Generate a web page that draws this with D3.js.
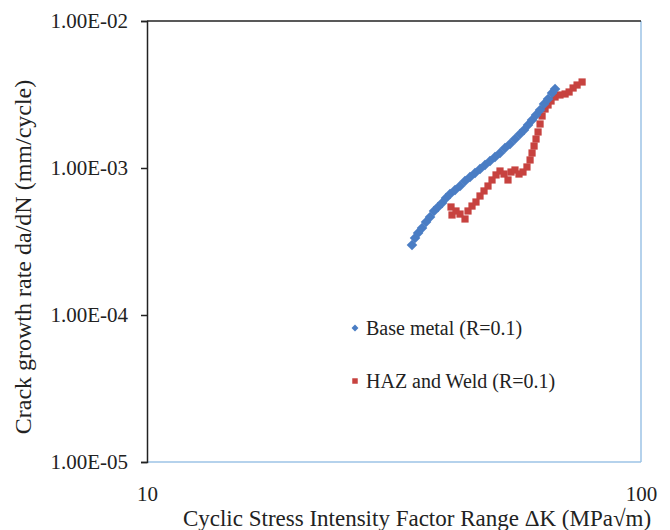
<!DOCTYPE html>
<html lang="en">
<head>
    <meta charset="UTF-8">
    <title>Crack growth rate</title>
    <script src="https://d3js.org/d3.v7.min.js"></script>
    <style>
        body { margin: 0; background: #fff; }
        svg { display: block; font-family: "Liberation Serif", "Times New Roman", serif; }
        .axis text { font-size: 21px; fill: #222; font-family: "Liberation Serif", serif; }
    </style>
</head>
<body>
<svg width="670" height="530"></svg>
<script>
// Base metal (R=0.1)
var baseK = [34.39, 34.88, 35.38, 36.04, 36.72, 37.41, 38.11, 38.83, 39.56, 40.30,
             41.06, 42.03, 43.02, 44.03, 45.07, 46.13, 47.22, 48.33, 49.47, 50.64,
             51.83, 53.05, 54.30, 55.58, 56.89, 57.96, 59.06, 60.18, 61.31, 62.47,
             63.64, 64.84, 66.06, 66.99];
var baseRate = [2.99e-4, 3.34e-4, 3.61e-4, 3.91e-4, 4.29e-4, 4.64e-4, 5.10e-4, 5.43e-4, 5.78e-4, 6.25e-4,
                6.65e-4, 7.09e-4, 7.54e-4, 8.16e-4, 8.69e-4, 9.25e-4, 9.84e-4, 1.048e-3, 1.116e-3, 1.188e-3,
                1.265e-3, 1.368e-3, 1.456e-3, 1.575e-3, 1.703e-3, 1.814e-3, 1.961e-3, 2.121e-3, 2.294e-3, 2.481e-3,
                2.725e-3, 2.947e-3, 3.237e-3, 3.446e-3];

// HAZ and Weld (R=0.1)
var hazK = [41.25, 41.44, 42.22, 43.02, 44.03, 44.65, 45.49, 46.34, 47.22, 48.11,
            49.01, 49.94, 50.88, 51.83, 52.81, 53.80, 54.56, 55.58, 56.63, 57.69,
            58.77, 59.63, 60.18, 60.75, 61.31, 61.89, 62.47, 63.06, 63.94, 64.84,
            65.75, 66.99, 68.55, 70.20, 71.52, 72.87, 74.23, 75.99];
var hazRate = [5.43e-4, 4.79e-4, 5.10e-4, 4.86e-4, 4.50e-4, 5.10e-4, 5.51e-4, 5.87e-4, 6.45e-4, 6.98e-4,
               7.54e-4, 8.29e-4, 8.97e-4, 9.54e-4, 9.10e-4, 8.29e-4, 9.39e-4, 9.69e-4, 9.10e-4, 9.39e-4,
               1.016e-3, 1.134e-3, 1.265e-3, 1.411e-3, 1.575e-3, 1.758e-3, 1.992e-3, 2.258e-3, 2.520e-3, 2.683e-3,
               2.856e-3, 3.041e-3, 3.138e-3, 3.188e-3, 3.289e-3, 3.501e-3, 3.669e-3, 3.846e-3];

var yTicks = [1e-2, 1e-3, 1e-4, 1e-5];
var yTickLabels = ["1.00E-02", "1.00E-03", "1.00E-04", "1.00E-05"];
var xTicks = [10, 100];
var xTickLabels = ["10", "100"];

var seriesNames = ["Base metal (R=0.1)", "HAZ and Weld (R=0.1)"];
var blue = "#4a7dc4", red = "#c7423f";

var plotLeft = 147, plotRight = 641, plotTop = 21, plotBottom = 462;
var x = d3.scaleLog().domain([10, 100]).range([plotLeft, plotRight]);
var y = d3.scaleLog().domain([1e-5, 1e-2]).range([plotBottom, plotTop]);

var svg = d3.select("svg");

// frame: right and bottom light blue, top and left black
svg.append("line").attr("x1", plotRight).attr("x2", plotRight).attr("y1", plotTop).attr("y2", plotBottom)
    .attr("stroke", "#9dc3e6").attr("stroke-width", 1.5);
svg.append("line").attr("x1", plotLeft).attr("x2", plotRight).attr("y1", plotBottom).attr("y2", plotBottom)
    .attr("stroke", "#9dc3e6").attr("stroke-width", 1.5);
svg.append("line").attr("x1", plotLeft).attr("x2", plotRight).attr("y1", plotTop).attr("y2", plotTop)
    .attr("stroke", "#222").attr("stroke-width", 1.5);

var yAxis = svg.append("g")
    .attr("class", "axis")
    .attr("transform", "translate(" + plotLeft + ",0)")
    .call(d3.axisLeft(y).tickValues(yTicks).tickSize(6).tickPadding(13)
        .tickFormat(function(d, i) { return yTickLabels[i]; }));
yAxis.select(".domain").attr("stroke", "#222").attr("stroke-width", 1.5);
yAxis.selectAll(".tick line").attr("stroke", "#222").attr("stroke-width", 1.5);

var xAxis = svg.append("g")
    .attr("class", "axis")
    .attr("transform", "translate(0," + plotBottom + ")")
    .call(d3.axisBottom(x).tickValues(xTicks).tickSize(0).tickPadding(24)
        .tickFormat(function(d, i) { return xTickLabels[i]; }));
xAxis.select(".domain").remove();

// axis titles
svg.append("text")
    .attr("text-anchor", "middle")
    .attr("x", 417).attr("y", 526)
    .style("font-size", "23px").attr("fill", "#222")
    .text("Cyclic Stress Intensity Factor Range \u0394K (MPa\u221Am)");

svg.append("text")
    .attr("text-anchor", "middle")
    .attr("transform", "translate(31,257)rotate(-90)")
    .style("font-size", "24px").attr("fill", "#222")
    .text("Crack growth rate da/dN (mm/cycle)");

// markers
var diamond = d3.symbol().type(d3.symbolSquare).size(56);
var square = d3.symbol().type(d3.symbolSquare).size(52);

svg.append("g").selectAll("path")
    .data(d3.range(hazK.length))
    .enter()
    .append("path")
    .attr("d", square)
    .attr("transform", function(i) { return "translate(" + x(hazK[i]) + "," + y(hazRate[i]) + ")"; })
    .attr("fill", red);

svg.append("g").selectAll("path")
    .data(d3.range(baseK.length))
    .enter()
    .append("path")
    .attr("d", diamond)
    .attr("transform", function(i) { return "translate(" + x(baseK[i]) + "," + y(baseRate[i]) + ")rotate(45)"; })
    .attr("fill", blue);

// legend
var legend = svg.append("g").attr("transform", "translate(355,328)");
legend.append("path").attr("d", d3.symbol().type(d3.symbolSquare).size(24))
    .attr("transform", "rotate(45)").attr("fill", blue);
legend.append("path").attr("d", d3.symbol().type(d3.symbolSquare).size(30))
    .attr("transform", "translate(0,53)").attr("fill", red);
legend.selectAll("text")
    .data(seriesNames)
    .enter()
    .append("text")
    .attr("x", 11)
    .attr("y", function(d, i) { return i * 53 + 7; })
    .style("font-size", "20px").attr("fill", "#222")
    .text(function(d) { return d; });
</script>
</body>
</html>
